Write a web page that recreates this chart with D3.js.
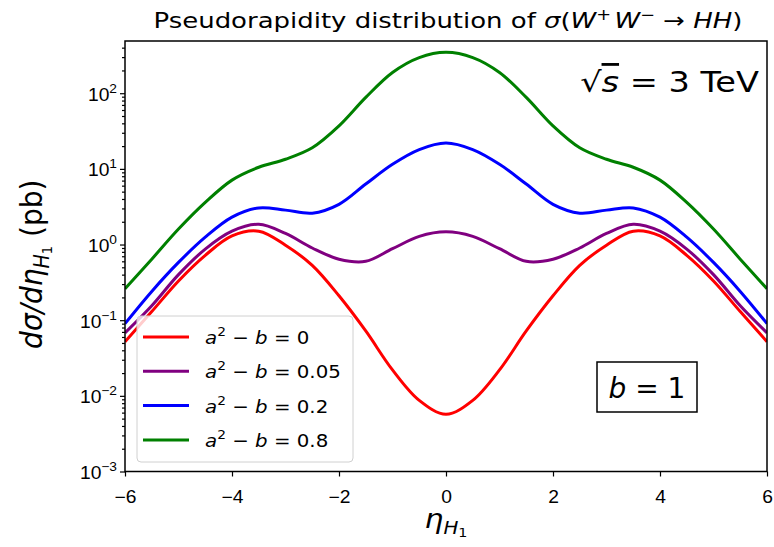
<!DOCTYPE html>
<html>
<head>
<meta charset="utf-8">
<title>Pseudorapidity distribution</title>
<script src="https://d3js.org/d3.v7.min.js"></script>
<style>
  body { margin: 0; background: #fff; }
  svg { font-family: "DejaVu Sans", sans-serif; }
</style>
</head>
<body>
<script>
// eta_H1 grid and curves (pb)
var eta = [-6, -5.5, -5, -4.5, -4, -3.5, -3, -2.5, -2, -1.5, -1, -0.5, 0,
           0.5, 1, 1.5, 2, 2.5, 3, 3.5, 4, 4.5, 5, 5.5, 6];
var ab0    = [0.052, 0.13, 0.33, 0.72, 1.3, 1.5, 0.98, 0.53, 0.21, 0.072, 0.022, 0.0087, 0.0057,
              0.0087, 0.022, 0.072, 0.21, 0.53, 0.98, 1.5, 1.3, 0.72, 0.33, 0.13, 0.052];
var ab005  = [0.068, 0.155, 0.40, 0.87, 1.5, 1.85, 1.4, 0.9, 0.64, 0.6, 0.88, 1.28, 1.47,
              1.28, 0.88, 0.6, 0.64, 0.9, 1.4, 1.85, 1.5, 0.87, 0.40, 0.155, 0.068];
var ab02   = [0.09, 0.24, 0.58, 1.25, 2.3, 3.05, 2.85, 2.6, 3.4, 6.3, 11.5, 18, 22,
              18, 11.5, 6.3, 3.4, 2.6, 2.85, 3.05, 2.3, 1.25, 0.58, 0.24, 0.09];
var ab08   = [0.26, 0.64, 1.6, 3.6, 7.1, 10.5, 13.4, 19, 37, 88, 188, 296, 347,
              296, 188, 88, 37, 19, 13.4, 10.5, 7.1, 3.6, 1.6, 0.64, 0.26];

var seriesNames = ["0", "0.05", "0.2", "0.8"];
var seriesColors = ["#ff0000", "#800080", "#0000ff", "#008000"];
var seriesValues = [ab0, ab005, ab02, ab08];

var xTicks = [-6, -4, -2, 0, 2, 4, 6];
var yTicks = [1e-3, 1e-2, 1e-1, 1e0, 1e1, 1e2];

var W = 774, H = 547;
var margin = {top: 41, right: 7, bottom: 75.5, left: 125};
var width = W - margin.left - margin.right,
    height = H - margin.top - margin.bottom;

var x = d3.scaleLinear().domain([-6, 6]).range([0, width]);
var y = d3.scaleLog().domain([1e-3, 490]).range([height, 0]);

var svg = d3.select("body").append("svg")
    .attr("width", W)
    .attr("height", H);

var g = svg.append("g")
    .attr("transform", "translate(" + margin.left + "," + margin.top + ")");

// helper: text built from [string, options] parts
function rich(sel, parts) {
    parts.forEach(function(p) {
        var t = sel.append("tspan").text(p[0]);
        var o = p[1] || {};
        if (o.it) t.attr("font-style", "italic");
        if (o.size) t.attr("font-size", o.size);
        if (o.dy) t.attr("dy", o.dy);
        if (o.dx) t.attr("dx", o.dx);
    });
    return sel;
}
// text placed at (px,py), widened by sx (the picture is a bit stretched)
function label(parent, px, py, sx, size, anchor) {
    return parent.append("text")
        .attr("transform", "translate(" + px + "," + py + ") scale(" + sx + ",1)")
        .attr("text-anchor", anchor || "start")
        .attr("font-size", size);
}

// curves
var line = d3.line()
    .x(function(d) { return x(d[0]); })
    .y(function(d) { return y(d[1]); })
    .curve(d3.curveCatmullRom.alpha(0.5));

svg.append("clipPath").attr("id", "clip")
    .append("rect").attr("width", width).attr("height", height);

var curves = g.append("g").attr("clip-path", "url(#clip)");
seriesValues.forEach(function(vals, i) {
    curves.append("path")
        .datum(eta.map(function(e, j) { return [e, vals[j]]; }))
        .attr("fill", "none")
        .attr("stroke", seriesColors[i])
        .attr("stroke-width", 3)
        .attr("d", line);
});

// axes
var xAxis = d3.axisBottom(x).tickValues(xTicks).tickSize(5).tickFormat("");
var gx = g.append("g")
    .attr("transform", "translate(0," + height + ")")
    .call(xAxis);
gx.selectAll(".tick").each(function(d) {
    var t = label(d3.select(this), 0, 31, 1.1, 17.5, "middle").attr("fill", "#000");
    t.text(d < 0 ? "\u2212" + (-d) : d);
});

var minor = [];
yTicks.forEach(function(t) {
    for (var k = 2; k <= 9; k++) if (t * k < 490) minor.push(t * k);
});
var yMinor = d3.axisLeft(y).tickValues(minor).tickSize(3).tickFormat("");
g.append("g").call(yMinor);

var yAxis = d3.axisLeft(y).tickValues(yTicks).tickSize(5).tickFormat("");
var gy = g.append("g").call(yAxis);
gy.selectAll(".tick").each(function(d) {
    var e = Math.round(Math.log10(d));
    var t = label(d3.select(this), -8, 7, 1.1, 17.5, "end").attr("fill", "#000");
    rich(t, [["10"], [e < 0 ? "\u2212" + (-e) : String(e), {size: 12.5, dy: -8}]]);
});

g.selectAll(".domain").remove();
g.selectAll(".tick line").attr("stroke", "#000").attr("stroke-width", 1.2);

// frame
g.append("rect")
    .attr("width", width).attr("height", height)
    .attr("fill", "none").attr("stroke", "#000").attr("stroke-width", 1.5);

// title
rich(label(svg, margin.left + width / 2 + 2, 28, 1.18, 22, "middle"),
    [["Pseudorapidity distribution of "], ["\u03c3", {it: true}], ["("],
     ["W", {it: true}], ["+", {size: 15, dy: -8}], ["W", {it: true, dy: 8, dx: 3}],
     ["\u2212", {size: 15, dy: -8}], [" \u2192 ", {dy: 8}], ["HH", {it: true}], [")"]]);

// axis labels
rich(label(svg, 446, 528, 1.1, 27, "middle"),
    [["\u03b7", {it: true}], ["H", {it: true, size: 18, dy: 6}], ["1", {size: 13, dy: 3}]]);

rich(svg.append("text")
    .attr("transform", "translate(42," + (margin.top + height / 2 + 8) + ") rotate(-90) scale(1,1.1)")
    .attr("text-anchor", "middle").attr("font-size", 28),
    [["d\u03c3/d\u03b7", {it: true}], ["H", {it: true, size: 19, dy: 6}],
     ["1", {size: 13, dy: 3}], [" (pb)", {dy: -9}]]);

// sqrt(s) label
var sq = label(svg, 759, 92, 1.2, 28, "end");
sq.append("tspan").text("\u221a");
sq.append("tspan").text("s").attr("font-style", "italic")
    .style("text-decoration", "overline");
sq.append("tspan").text(" = 3 TeV");

// b = 1 box
g.append("rect")
    .attr("x", 597 - margin.left).attr("y", 362 - margin.top)
    .attr("width", 100).attr("height", 50)
    .attr("fill", "#fff").attr("stroke", "#000").attr("stroke-width", 1.5);
rich(label(g, 647 - margin.left, 398 - margin.top, 1, 28, "middle"),
    [["b", {it: true}], [" = 1"]]);

// legend
var lg = svg.append("g").attr("transform", "translate(137,316)");
lg.append("rect")
    .attr("width", 216).attr("height", 146).attr("rx", 4)
    .attr("fill", "#fff").attr("fill-opacity", 0.8)
    .attr("stroke", "#d0d0d0").attr("stroke-width", 1);
seriesNames.forEach(function(n, i) {
    var yy = 21 + i * 34.3;
    lg.append("line")
        .attr("x1", 6).attr("x2", 52).attr("y1", yy).attr("y2", yy)
        .attr("stroke", seriesColors[i]).attr("stroke-width", 3);
    rich(label(lg, 68, yy + 7, 1.1, 18),
        [["a", {it: true}], ["2", {size: 12.5, dy: -8}], [" \u2212 ", {dy: 8}],
         ["b", {it: true}], [" = " + n]]);
});
</script>
</body>
</html>
